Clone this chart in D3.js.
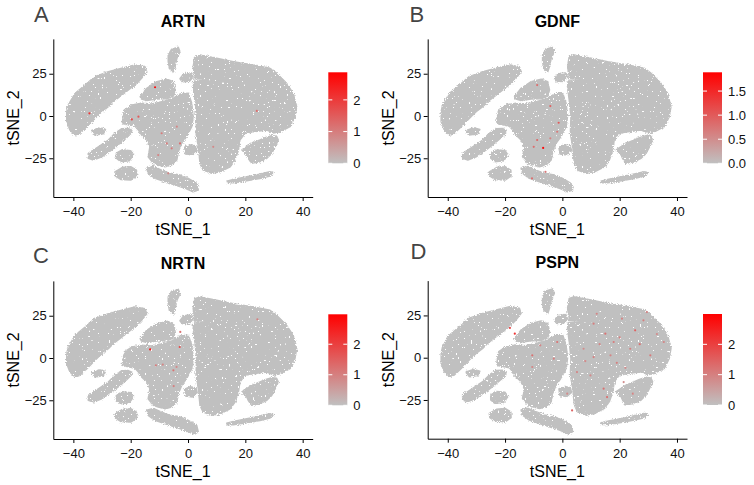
<!DOCTYPE html>
<html>
<head>
<meta charset="utf-8">
<script src="https://cdn.jsdelivr.net/npm/d3@7"></script>
<style>
  body { margin: 0; background: #fff; }
  text { font-family: "Liberation Sans", Arial, sans-serif; }
</style>
</head>
<body>
<div id="chart"></div>
<script>
const w = 754;
const h = 485;

// gene panels
const genes = ["ARTN", "GDNF", "NRTN", "PSPN"];
const panelLetters = ["A", "B", "C", "D"];
const legendMax = [2.87, 1.89, 2.98, 3.0];
const legendTicks = [[0, 1, 2], [0, 0.5, 1, 1.5], [0, 1, 2], [0, 1, 2]];
const xTicks = [-40, -20, 0, 20, 40];
const yTicks = [-25, 0, 25];

// cluster outlines in tSNE coordinates
const leftCluster = [[-42.3, 2.5], [-41.8, 6.5], [-39.4, 13.4], [-35.9, 18.3], [-32.5, 23.3], [-27.8, 26.2],
  [-23.1, 28.2], [-18.5, 30.2], [-15.0, 29.2], [-14.4, 26.2], [-16.2, 22.3], [-17.9, 19.3], [-20.8, 15.4],
  [-23.1, 12.4], [-26.1, 8.5], [-27.8, 5.5], [-30.1, 2.5], [-32.5, -1.4], [-35.3, -6.3], [-37.7, -10.2],
  [-39.4, -11.2], [-41.2, -8.3], [-42.3, -3.4]];
const topBlob = [[-6.9, 36.1], [-5.7, 39.5], [-3.4, 40.7], [-2.8, 38.0], [-3.9, 34.1], [-4.5, 29.2],
  [-5.1, 26.2], [-6.5, 28.2], [-6.9, 32.1]];
const upperMidCluster = [[-16.7, 11.4], [-14.4, 16.4], [-10.9, 20.3], [-7.4, 21.7], [-5.1, 20.3], [-4.5, 15.4],
  [-5.1, 11.8], [-7.4, 10.2], [-10.9, 10.0], [-14.4, 9.2], [-16.2, 10.0]];
const smallTopBlob = [[-2.8, 22], [-1.5, 25], [1.2, 25.5], [1.8, 23], [0.5, 20.5], [-2, 20.3]];
const midCluster = [[-22.9, -3.4], [-22.2, 3.6], [-19.6, 6.5], [-16.2, 7.5], [-12.7, 7.1], [-9.2, 8.5],
  [-5.7, 10.0], [-2.8, 13.0], [0.1, 13.4], [1.3, 7.5], [1.8, -0.4], [1.3, -6.3], [-0.5, -12.2], [-2.2, -16.2],
  [-3.4, -21.1], [-3.9, -26.0], [-5.7, -29.0], [-8.0, -30.0], [-10.4, -29.0], [-12.1, -28.0], [-13.9, -24.1],
  [-13.3, -18.2], [-14.4, -14.2], [-16.2, -11.2], [-17.3, -8.3], [-18.5, -6.0], [-20.8, -5.2], [-22.6, -4.6]];
const tailCluster = [[-14.4, -30.9], [-12.1, -29.8], [-9.2, -32.0], [-6.3, -33.9], [-2.8, -34.9], [0.1, -36.9],
  [3.0, -39.8], [3.6, -43.8], [1.8, -44.8], [-1.0, -42.8], [-4.5, -40.8], [-8.0, -38.9], [-11.5, -36.9],
  [-13.9, -33.9]];
const rightCluster = [[2.4, 35.1], [4.2, 36.1], [10.0, 34.1], [15.8, 32.1], [22.8, 30.2], [28.6, 28.2],
  [30.9, 25.3], [34.4, 19.3], [36.7, 13.4], [37.9, 5.5], [37.3, -0.4], [35.6, -6.3], [32.1, -9.3], [29.8, -10.0],
  [27.5, -8.3], [22.8, -9.3], [19.9, -10.2], [18.1, -14.2], [17.6, -20.1], [16.4, -26.0], [14.7, -30.0],
  [11.2, -33.0], [8.3, -33.9], [5.3, -32.0], [4.2, -28.0], [3.6, -18.2], [2.8, -10.2], [3.0, -0.4], [2.4, 9.5],
  [1.9, 15.5], [12, 15.9], [2.0, 16.4], [1.8, 17.3], [2.0, 20.7], [10, 21.4], [2.2, 22.0], [2.4, 23.3],
  [1.8, 29.2]];
const rightBottomCluster = [[18.8, -20.1], [22.2, -16.2], [25.1, -14.2], [26.9, -12.8], [29.2, -11.6],
  [30.9, -12.0], [31.5, -14.2], [30.4, -18.2], [29.2, -22.1], [27.5, -25.0], [25.1, -27.0], [22.2, -28.0],
  [21.0, -25.0], [20.5, -23.1]];
const bottomStrip = [[13.5, -38.5], [15.8, -37.5], [20.5, -35.9], [25.1, -34.3], [28.6, -33.0], [30.0, -33.5],
  [28.6, -35.5], [25.1, -36.9], [20.5, -38.3], [15.8, -39.5], [13.7, -39.5]];
const armCluster = [[-34.8, -22.1], [-31.3, -18.2], [-27.8, -14.2], [-25.5, -10.2], [-23.1, -7.5], [-21.0, -7.4],
  [-19.6, -8.4], [-20.0, -10.5], [-21.4, -12.8], [-23.7, -16.2], [-26.6, -20.1], [-30.1, -24.1], [-33.0, -26.0],
  [-34.8, -25.0]];
const smallLeftBlob = [[-33.6, -8.5], [-31, -7], [-28.8, -8], [-29.5, -10.5], [-32.5, -11.2]];
const blobBelowArm = [[-25, -22], [-23, -20], [-20, -20.5], [-19, -23], [-20.5, -26.5], [-23.5, -27], [-25, -25]];
const bottomLeftBlob = [[-25.5, -33], [-23, -30.5], [-20, -30], [-18, -32], [-17.9, -35.5], [-20, -37.9],
  [-23.5, -37.5], [-25.3, -35.5]];
const gapBlob = [[-1.2, -18.5], [0.8, -17], [2.8, -17.8], [3.2, -20.5], [1.5, -23], [-0.8, -22.5]];

const clusters = [leftCluster, topBlob, upperMidCluster, smallTopBlob, midCluster, tailCluster, rightCluster,
  rightBottomCluster, bottomStrip, armCluster, smallLeftBlob, blobBelowArm, bottomLeftBlob, gapBlob];

// expressing cells per gene: [tSNE_1, tSNE_2, expression]
const artnCells = [[-11.5, 17, 2.6], [-34.4, 1.6, 2.0], [-19.6, -2, 1.8], [-17.3, -0.4, 1.5], [24, 3, 1.2],
  [-9.2, -10.2, 1.0], [-2.8, -16.2, 1.2], [-5.7, -19.1, 1.0], [-10.4, -23.1, 0.9], [-6.9, -33.9, 0.8],
  [8.8, -18.2, 0.8], [-3.9, -6.3, 0.8], [-7.4, -16.2, 1.0]];
const gdnfCells = [[-8.8, 18.3, 0.8], [-4.2, 5.9, 0.9], [-1.3, -4, 1.0], [-1.8, -9.3, 0.7], [-8.8, -14.2, 0.9],
  [-6.7, -18.9, 1.8], [-10, -18.2, 0.8], [-4.2, -13.2, 0.6], [-5.9, -33, 0.7], [-10.6, -36.9, 0.8]];
const nrtnCells = [[-13.2, 5.1, 2.7], [-2.7, 15.4, 1.2], [-2.9, 6.5, 1.8], [-11.2, -4.3, 1.0], [-8.8, -3.9, 0.9],
  [-5.1, -7.3, 1.2], [-4, -5.3, 0.8], [-5, -16.6, 1.0], [24.2, 22.9, 1.0]];
const pspnCells = [[-18.3, 17.6, 1.8], [-16.6, 14.2, 2.2], [-1.8, 9.3, 1.2], [-7.7, 7.3, 0.9], [-10.5, 1.4, 1.2],
  [-3.0, -0.6, 1.0], [3.4, -31.2, 1.4], [10.9, 20.1, 1.0], [15.0, 14.2, 1.2], [20.8, 23.1, 0.9], [25.4, 16.2, 1.5],
  [28.3, 22.1, 1.0], [29.5, 27.0, 0.9], [17.9, 9.3, 1.1], [23.7, 5.3, 1.0], [30.7, 1.4, 1.1], [16.8, 1.4, 0.9],
  [10.9, 0.4, 1.0], [7.4, 5.3, 0.8], [14.4, -18.3, 1.2], [15.6, -23.3, 1.3], [24.6, -21.3, 0.9],
  [21.4, -14.4, 0.8], [5.1, -8.5, 0.9], [9.8, -10.5, 0.8], [35.4, 9.3, 0.9], [1.7, -21.3, 0.8],
  [-10.5, -5.5, 0.9], [20, 12, 1.0], [12, 26, 0.9], [27, 8, 1.2], [33, 14, 0.8], [8, -2, 0.9], [19, -3, 1.0],
  [22, -6, 0.8], [13, 8, 0.9]];
const cellsByGene = [artnCells, gdnfCells, nrtnCells, pspnCells];

// panel placement (pixels)
const panels = [
  { left: 53.3, right: 312.7, y0: 116, barX: 328.3, letterX: 34, letterY: 21.7 },
  { left: 427.7, right: 687, y0: 116, barX: 703, letterX: 409.5, letterY: 21.7 },
  { left: 53.3, right: 312.7, y0: 358, barX: 328.3, letterX: 33, letterY: 263 },
  { left: 427.7, right: 687, y0: 357.7, barX: 703, letterX: 410.5, letterY: 259 }
];

const grey = "#c0c0c0";

const svg = d3.select("#chart").append("svg").attr("width", w).attr("height", h);
const defs = svg.append("defs");

// ragged, lightly speckled look of a dense point cloud
const rough = defs.append("filter").attr("id", "rough")
  .attr("x", "-5%").attr("y", "-5%").attr("width", "110%").attr("height", "110%");
rough.append("feTurbulence").attr("type", "fractalNoise").attr("baseFrequency", 0.9)
  .attr("numOctaves", 1).attr("seed", 3).attr("result", "noise");
rough.append("feDisplacementMap").attr("in", "SourceGraphic").attr("in2", "noise")
  .attr("scale", 4).attr("xChannelSelector", "R").attr("yChannelSelector", "G").attr("result", "disp");
rough.append("feTurbulence").attr("type", "fractalNoise").attr("baseFrequency", 0.45)
  .attr("numOctaves", 2).attr("seed", 11).attr("result", "n2");
rough.append("feColorMatrix").attr("in", "n2").attr("type", "matrix")
  .attr("values", "0 0 0 0 0  0 0 0 0 0  0 0 0 0 0  0 0 0 -30 22.5").attr("result", "mask");
rough.append("feComposite").attr("in", "disp").attr("in2", "mask").attr("operator", "in");

panels.forEach((p, i) => {
  const top = p.y0 - 77.1;
  const bottom = p.y0 + 81;
  const x = d3.scaleLinear().domain([-47, 43.5]).range([p.left, p.right]);
  const y = d3.scaleLinear().domain([-47.9, 45.6]).range([bottom, top]);
  const g = svg.append("g");

  // cells
  const line = d3.line().x((d) => x(d[0])).y((d) => y(d[1])).curve(d3.curveLinearClosed);
  g.append("g")
    .attr("filter", "url(#rough)")
    .selectAll(".cluster")
    .data(clusters)
    .enter()
    .append("path")
    .attr("class", "cluster")
    .attr("d", line)
    .style("fill", grey)
    .style("stroke", grey)
    .style("stroke-width", 1.5)
    .style("stroke-linejoin", "round");

  const color = d3.scaleLinear().domain([0, legendMax[i]]).range([grey, "#ff0000"]);
  const cells = cellsByGene[i].slice().sort((a, b) => a[2] - b[2]);
  g.selectAll(".cell")
    .data(cells)
    .enter()
    .append("circle")
    .attr("class", "cell")
    .attr("cx", (d) => x(d[0]))
    .attr("cy", (d) => y(d[1]))
    .attr("r", 1.1)
    .style("fill", (d) => color(d[2]));

  // axes
  const xAxis = g.append("g")
    .attr("transform", `translate(0, ${bottom})`)
    .call(d3.axisBottom(x).tickValues(xTicks).tickSize(4).tickSizeOuter(0).tickPadding(6));
  const yAxis = g.append("g")
    .attr("transform", `translate(${p.left}, 0)`)
    .call(d3.axisLeft(y).tickValues(yTicks).tickSize(4).tickSizeOuter(0).tickPadding(2.5));
  [xAxis, yAxis].forEach((a) => {
    a.selectAll("text").style("font-size", "13px").style("fill", "#111")
      .style("font-family", '"Liberation Sans", Arial, sans-serif');
    a.selectAll("line, path").style("stroke", "#000").style("stroke-width", 1);
  });

  // titles
  g.append("text")
    .attr("x", (p.left + p.right) / 2)
    .attr("y", p.y0 - 89.3)
    .attr("text-anchor", "middle")
    .style("font-size", "16px")
    .style("font-weight", "bold")
    .text(genes[i]);

  g.append("text")
    .attr("x", p.letterX)
    .attr("y", p.letterY)
    .style("font-size", "22px")
    .style("fill", "#444")
    .text(panelLetters[i]);

  g.append("text")
    .attr("x", (p.left + p.right) / 2)
    .attr("y", bottom + 38.3)
    .attr("text-anchor", "middle")
    .style("font-size", "16px")
    .text("tSNE_1");

  g.append("text")
    .attr("transform", `translate(${p.left - 34}, ${(top + bottom) / 2}) rotate(-90)`)
    .attr("text-anchor", "middle")
    .style("font-size", "16px")
    .text("tSNE_2");

  // colour bar
  const barTop = p.y0 - 43.7;
  const barBottom = p.y0 + 47.3;
  const barW = 19;
  const grad = defs.append("linearGradient")
    .attr("id", "grad" + i)
    .attr("x1", 0).attr("y1", 1).attr("x2", 0).attr("y2", 0);
  grad.append("stop").attr("offset", "0%").attr("stop-color", grey);
  grad.append("stop").attr("offset", "100%").attr("stop-color", "#ff0000");

  g.append("rect")
    .attr("x", p.barX)
    .attr("y", barTop)
    .attr("width", barW)
    .attr("height", barBottom - barTop)
    .style("fill", `url(#grad${i})`);

  const barScale = d3.scaleLinear().domain([0, legendMax[i]]).range([barBottom, barTop]);
  const fmt = i === 1 ? d3.format(".1f") : d3.format("d");
  legendTicks[i].forEach((t) => {
    const ty = barScale(t);
    g.append("line")
      .attr("x1", p.barX).attr("x2", p.barX + 4)
      .attr("y1", ty).attr("y2", ty)
      .style("stroke", "#fff").style("stroke-width", 1);
    g.append("line")
      .attr("x1", p.barX + barW - 4).attr("x2", p.barX + barW)
      .attr("y1", ty).attr("y2", ty)
      .style("stroke", "#fff").style("stroke-width", 1);
    g.append("text")
      .attr("x", p.barX + barW + 6)
      .attr("y", ty)
      .attr("dy", "0.36em")
      .style("font-size", "13px")
      .style("fill", "#111")
      .text(fmt(t));
  });
});
</script>
</body>
</html>
